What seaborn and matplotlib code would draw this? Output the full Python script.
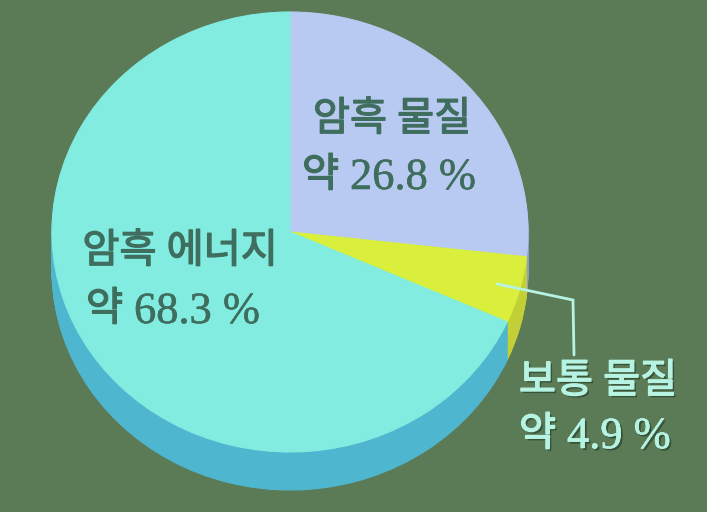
import matplotlib
matplotlib.use("Agg")
import matplotlib.pyplot as plt
import matplotlib.patheffects as pe
from matplotlib.transforms import Affine2D
import seaborn as sns

categories = ["암흑 물질", "보통 물질", "암흑 에너지"]
values = [26.8, 4.9, 68.3]
value_labels = ["약 26.8 %", "약 4.9 %", "약 68.3 %"]
top_colors = ["#b9caf2", "#d9ef3c", "#82ece0"]
side_colors = ["#8ea0d0", "#c3cf36", "#4fb6cf"]

sns.set_theme(style="white")
plt.rcParams['font.family'] = ['Liberation Serif', 'Noto Sans CJK KR', 'DejaVu Sans']

W, H = 707, 512
fig = plt.figure(figsize=(W / 100, H / 100), dpi=100)
bg = "#5b7b57"
fig.patch.set_facecolor(bg)
ax = fig.add_axes([0, 0, 1, 1])
ax.set_facecolor(bg)
ax.axis("off")

cx, cy = 290, 232
rx, ry = 238, 220
depth = 38

def draw_pie(offset, colors):
    wedges, _ = ax.pie(values, startangle=90, counterclock=False, colors=colors,
                       radius=1, center=(0, 0),
                       wedgeprops=dict(linewidth=0.8))
    tr = Affine2D().scale(rx, -ry).translate(cx, cy + offset) + ax.transData
    for w, c in zip(wedges, colors):
        w.set_edgecolor(c)
        w.set_transform(tr)
    return wedges

for d in range(depth, 0, -1):
    draw_pie(d, side_colors)
draw_pie(0, top_colors)
ax.set_xlim(0, W)
ax.set_ylim(H, 0)
ax.set_aspect("auto")

fs = 29
nfs = 32

def label(name, vlabel, xc, y1, xl, y2, color, effects=None):
    effects = list(effects or [])
    kr = effects + [pe.withStroke(linewidth=1.0, foreground=color)]
    dg = effects + [pe.withStroke(linewidth=0.4, foreground=color)]
    kw = dict(color=color, va="center", fontweight="normal")
    ax.text(xc, y1, name, fontsize=fs, ha="center", path_effects=kr, **kw)
    pre, num = vlabel.split(" ", 1)
    ax.text(xl, y2, pre, fontsize=fs, ha="left", path_effects=kr, **kw)
    ax.text(xl + 48, y2 + 1, num, fontsize=nfs, ha="left", path_effects=dg, **kw)

dark = "#3f6e5f"
label(categories[0], value_labels[0], 392, 121, 302, 177, dark)
label(categories[2], value_labels[2], 180, 253, 86, 311, dark)

light = "#b6f3e2"
eff = [pe.withSimplePatchShadow(offset=(1.5, -1.5), shadow_rgbFace="#2e4a30", alpha=0.8)]
label(categories[1], value_labels[1], 598, 383, 519, 436, light, eff)
ax.plot([497, 573, 574], [284, 300, 355], color=light, lw=2, solid_joinstyle="miter")

fig.savefig("out.png", dpi=100, facecolor=bg)
